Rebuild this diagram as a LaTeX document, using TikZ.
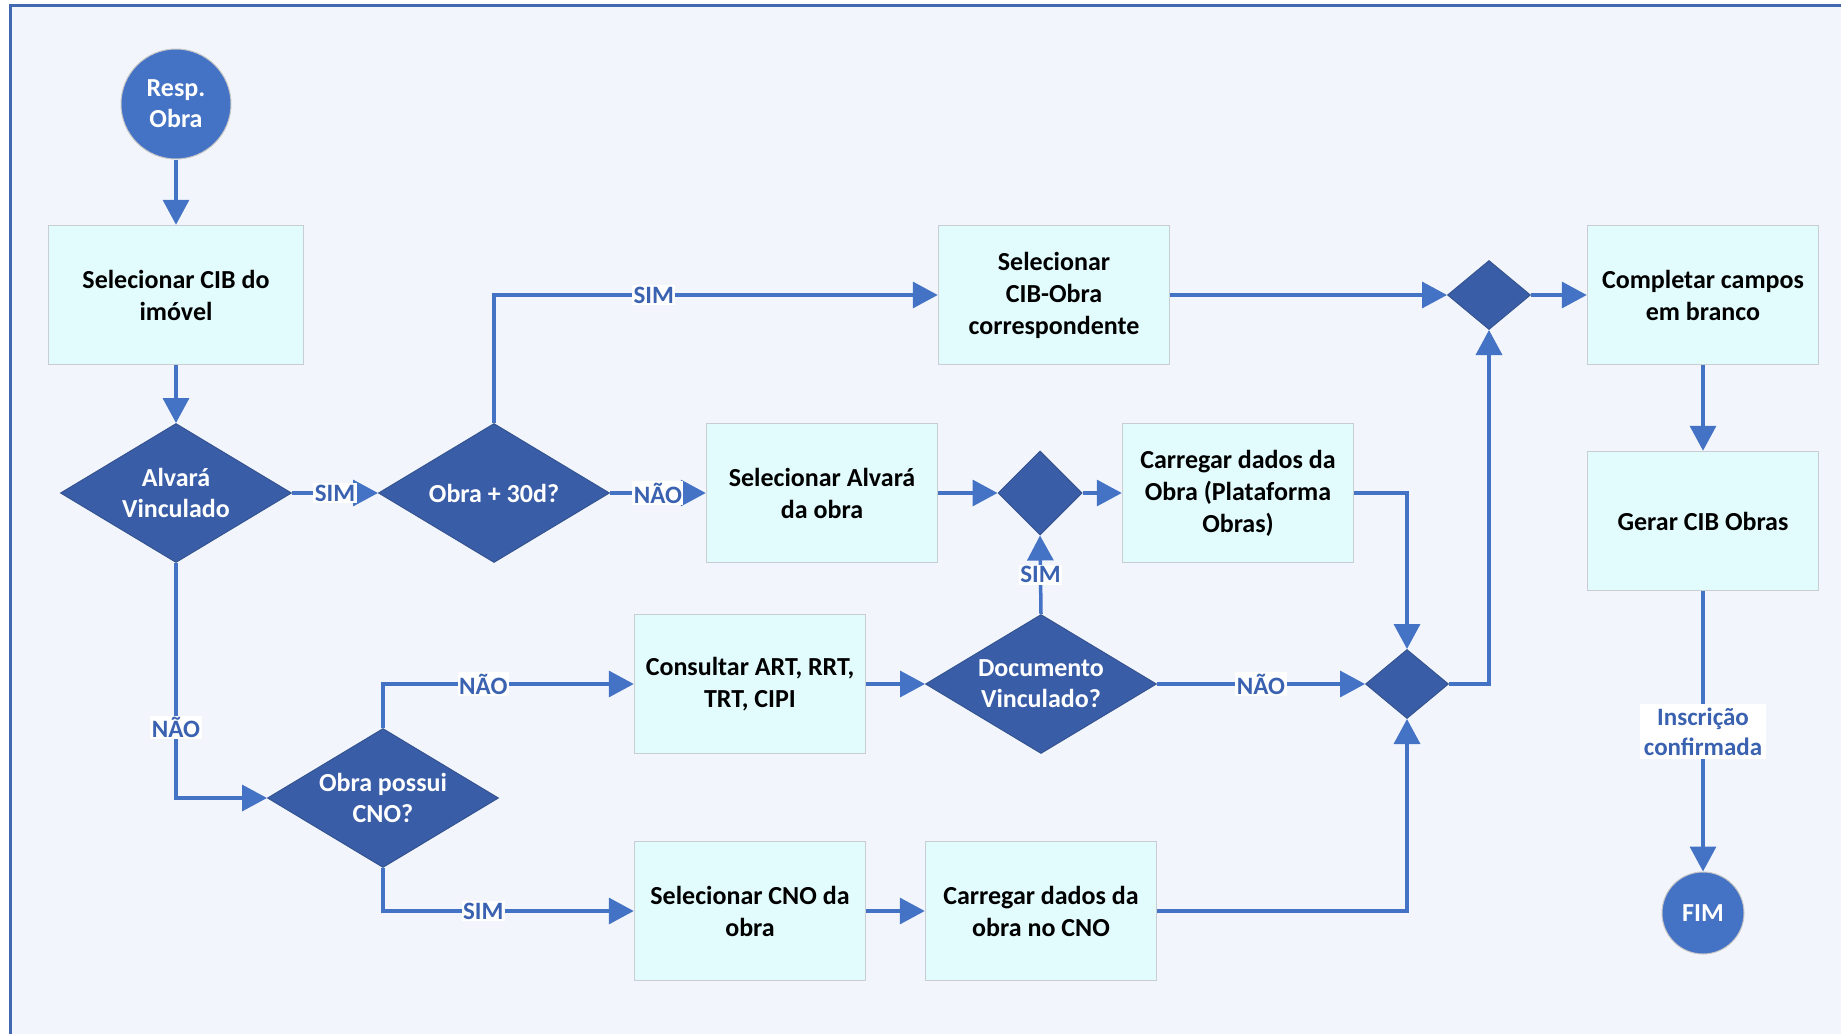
\documentclass[tikz,border=0pt]{standalone}
\usepackage{fontspec}
\setmainfont{Carlito}
\usetikzlibrary{arrows.meta,shapes.geometric,calc}
\definecolor{bgc}{HTML}{F2F6FC}
\definecolor{framec}{HTML}{4168B0}
\definecolor{boxc}{HTML}{E2FBFD}
\definecolor{boxb}{HTML}{C8CDD2}
\definecolor{diac}{HTML}{3A5DA8}
\definecolor{diab}{HTML}{34538F}
\definecolor{circc}{HTML}{4472C4}
\definecolor{arrc}{HTML}{4472C4}
\definecolor{lblc}{HTML}{3A62B0}
\tikzset{
  stepbox/.style={draw=boxb, line width=1.5pt, fill=boxc, minimum width=231pt, minimum height=139pt,
    align=center, inner sep=2pt, font=\bfseries\fontsize{26}{32}\selectfont, text=black},
  decbox/.style={shape=diamond, fill=diac, draw=diab, line width=1pt, aspect=1.66, inner sep=-4pt,
    minimum width=231pt, minimum height=139pt, align=center, text=white,
    font=\bfseries\fontsize{26}{31}\selectfont},
  junc/.style={shape=diamond, fill=diac, draw=diab, line width=1pt, inner sep=0pt, minimum width=83pt, minimum height=69pt},
  term/.style={circle, fill=circc, draw=gray!45, line width=1pt, align=center, text=white,
    font=\bfseries\fontsize{26}{31}\selectfont, inner sep=0pt},
  arr/.style={draw=arrc, line width=3.5pt, -{Triangle[length=25pt,width=26pt]}},
  lbl/.style={fill=white, text=lblc, inner sep=1.5pt, font=\bfseries\fontsize{25}{30}\selectfont, align=center},
}
\begin{document}
\begin{tikzpicture}[x=1pt,y=-1pt]
\useasboundingbox (0,0) rectangle (1841,1033);
\fill[white] (0,0) rectangle (1841,1033);
\fill[bgc] (10,6) rectangle (1860,1050);
\draw[framec, line width=3pt] (10,1050) -- (10,6) -- (1860,6);

\node[term, minimum size=110pt] (start) at (176,104) {Resp.\\Obra};
\node[stepbox, minimum width=255pt] (cib) at (176,295) {Selecionar CIB do\\imóvel};
\node[decbox] (alv) at (176,493) {Alvará\\Vinculado};
\node[decbox] (o30) at (494,493) {Obra + 30d?};
\node[stepbox] (cibobra) at (1054,295) {Selecionar\\CIB-Obra\\correspondente};
\node[junc] (j1) at (1489,295) {};
\node[stepbox] (compl) at (1703,295) {Completar campos\\em branco};
\node[stepbox] (gerar) at (1703,521) {Gerar CIB Obras};
\node[term, minimum size=82pt] (fim) at (1703,913) {FIM};
\node[stepbox] (alvbox) at (822,493) {Selecionar Alvará\\da obra};
\node[junc, minimum width=84pt, minimum height=84pt] (j2) at (1040,493) {};
\node[stepbox] (carplat) at (1238,493) {Carregar dados da\\Obra (Plataforma\\Obras)};
\node[junc] (j3) at (1407,684) {};
\node[decbox] (cno) at (383,798) {Obra possui\\CNO?};
\node[stepbox] (consul) at (750,684) {Consultar ART, RRT,\\TRT, CIPI};
\node[decbox] (doc) at (1041,684) {Documento\\Vinculado?};
\node[stepbox] (cnobox) at (750,911) {Selecionar CNO da\\obra};
\node[stepbox] (carcno) at (1041,911) {Carregar dados da\\obra no CNO};

\draw[arr] (start) -- (cib);
\draw[arr] (cib) -- (alv);
\draw[arr] (alv) -- node[lbl] {SIM} (o30);
\draw[arr] (o30.north) |- node[lbl, pos=0.68] {SIM} (cibobra.west);
\draw[arr] (cibobra) -- (j1);
\draw[arr] (j1) -- (compl);
\draw[arr] (compl) -- (gerar);
\draw[arr] (gerar) -- node[lbl, inner sep=4pt] {Inscrição\\confirmada} (fim);
\draw[arr] (o30) -- node[lbl] {NÃO} (alvbox);
\draw[arr] (alvbox) -- (j2);
\draw[arr] (j2) -- (carplat);
\draw[arr] (carplat.east) -| (j3.north);
\draw[arr] (j3.east) -| (j1.south);
\draw[arr] (alv.south) |- node[lbl, pos=0.35] {NÃO} (cno.west);
\draw[arr] (cno.north) |- node[lbl, pos=0.7] {NÃO} (consul.west);
\draw[arr] (consul) -- (doc);
\draw[arr] (doc.north) -- node[lbl] {SIM} (j2.south);
\draw[arr] (doc) -- node[lbl] {NÃO} (j3);
\draw[arr] (cno.south) |- node[lbl, pos=0.7] {SIM} (cnobox.west);
\draw[arr] (cnobox) -- (carcno);
\draw[arr] (carcno.east) -| (j3.south);
\end{tikzpicture}
\end{document}
